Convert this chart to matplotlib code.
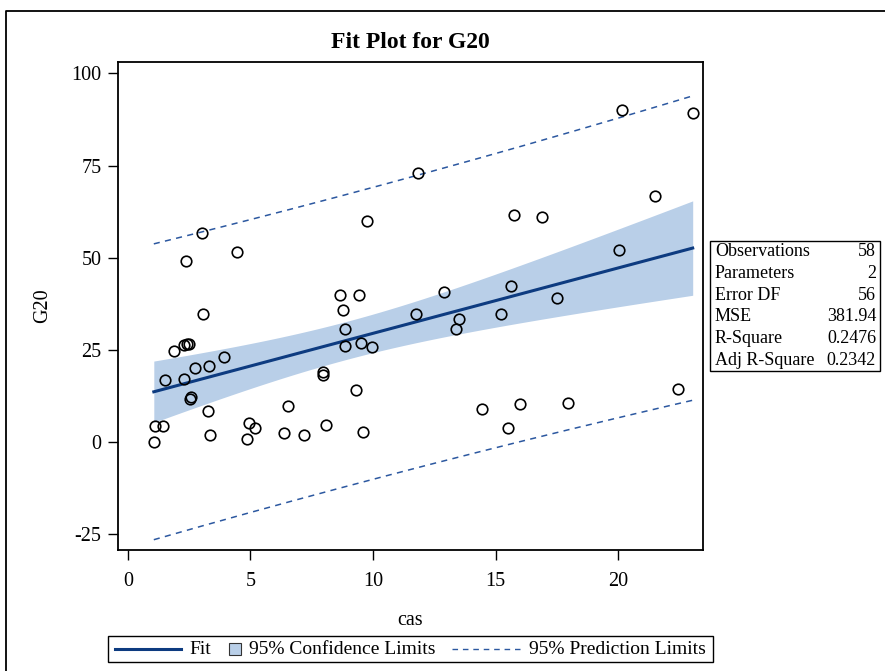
import numpy as np
import matplotlib
matplotlib.use("Agg")
import matplotlib.pyplot as plt
from matplotlib.lines import Line2D
from matplotlib.patches import Rectangle

plt.rcParams['font.family'] = ['Liberation Serif', 'DejaVu Serif']
plt.rcParams['axes.unicode_minus'] = False

# ---- data ----
cas = [1.06, 1.10, 1.43, 1.50, 1.88, 2.31, 2.42, 2.50, 2.39, 2.31,
       2.56, 2.53, 2.72, 3.02, 3.07, 4.44, 3.33, 3.94, 3.26, 3.37,
       4.96, 5.18, 4.85, 6.35, 6.55, 11.83, 9.76, 8.64, 9.43, 8.78,
       8.87, 8.87, 9.49, 9.96, 7.96, 7.96, 9.29, 8.07, 7.20, 9.58,
       11.73, 12.91, 13.51, 13.40, 14.44, 15.76, 16.89, 21.51, 20.03, 15.63,
       15.23, 17.49, 15.97, 15.49, 17.95, 22.42, 20.14, 23.03]
g20 = [0.0, 4.3, 4.3, 16.8, 24.6, 26.2, 26.6, 26.7, 49.1, 17.0,
       12.3, 11.6, 20.2, 56.6, 34.7, 51.6, 20.6, 23.1, 8.3, 1.9,
       5.1, 3.7, 0.7, 2.4, 9.7, 73.1, 59.9, 39.9, 40.0, 35.8,
       30.7, 26.1, 26.8, 25.8, 19.0, 18.2, 14.1, 4.6, 1.8, 2.8,
       34.7, 40.6, 33.3, 30.6, 9.0, 61.6, 61.1, 66.8, 52.1, 42.3,
       34.7, 39.2, 10.2, 3.7, 10.7, 14.4, 90.0, 89.2]

stat_names = ["Observations", "Parameters", "Error DF", "MSE", "R-Square", "Adj R-Square"]
stat_values = ["58", "2", "56", "381.94", "0.2476", "0.2342"]

x_ticks = [0, 5, 10, 15, 20]
y_ticks = [-25, 0, 25, 50, 75, 100]

T_CRIT = 2.00324  # t(0.975, 56)

# ---- fit ----
x = np.array(cas)
y = np.array(g20)
n = len(x)
b1, b0 = np.polyfit(x, y, 1)
resid = y - (b0 + b1 * x)
mse = np.sum(resid ** 2) / (n - 2)
xm = x.mean()
sxx = np.sum((x - xm) ** 2)
xg = np.linspace(x.min(), x.max(), 200)
yg = b0 + b1 * xg
se_mean = np.sqrt(mse * (1 / n + (xg - xm) ** 2 / sxx))
se_pred = np.sqrt(mse * (1 + 1 / n + (xg - xm) ** 2 / sxx))

FIT_C = '#0d3b80'
CL_C = '#b9cfe8'
PL_C = '#2c58a0'

W, H = 885, 671
fig = plt.figure(figsize=(W / 100, H / 100), dpi=100)

def fx(px):
    return px / W

def fy(py):
    return 1 - py / H

ax = fig.add_axes([fx(118), fy(550), fx(703) - fx(118), fy(62) - fy(550)])
ax.fill_between(xg, yg - T_CRIT * se_mean, yg + T_CRIT * se_mean, color=CL_C, lw=0, zorder=1)
ax.plot(xg, yg, color=FIT_C, lw=2.2, zorder=3)
ax.plot(xg, yg + T_CRIT * se_pred, color=PL_C, lw=1.1, ls=(0, (4, 3.5)), zorder=2)
ax.plot(xg, yg - T_CRIT * se_pred, color=PL_C, lw=1.1, ls=(0, (4, 3.5)), zorder=2)
ax.plot(x, y, ls='none', marker='o', ms=7.6, mfc='none', mec='black', mew=1.2, zorder=4)

ax.set_xlim(-0.4, 23.45)
ax.set_ylim(-29.3, 103.1)
ax.set_xticks(x_ticks)
ax.set_yticks(y_ticks)
ax.tick_params(axis='both', labelsize=14.5, length=7, width=1, color='black')
ax.tick_params(axis='x', pad=8.5)
ax.tick_params(axis='y', pad=5)
for s in ax.spines.values():
    s.set_linewidth(1.3)
ax.set_title("Fit Plot for G20", fontsize=17, fontweight='bold', pad=10)
ax.set_xlabel("cas", fontsize=14.5, labelpad=15)
ax.set_ylabel("G20", fontsize=14.5, labelpad=14)

# ---- stats table ----
tb = (710, 241, 880, 371)
fig.add_artist(Rectangle((fx(tb[0]), fy(tb[3])), fx(tb[2]) - fx(tb[0]), fy(tb[1]) - fy(tb[3]),
                         transform=fig.transFigure, fill=False, ec='black', lw=1.0))
row_h = (tb[3] - tb[1]) / len(stat_names)
for i, (nm, v) in enumerate(zip(stat_names, stat_values)):
    cy = tb[1] + row_h * (i + 0.5)
    fig.text(fx(tb[0] + 5), fy(cy), nm, fontsize=13, ha='left', va='center')
    fig.text(fx(tb[2] - 4), fy(cy), v, fontsize=13, ha='right', va='center')

# ---- legend ----
lb = (108, 636, 713, 662)
fig.add_artist(Rectangle((fx(lb[0]), fy(lb[3])), fx(lb[2]) - fx(lb[0]), fy(lb[1]) - fy(lb[3]),
                         transform=fig.transFigure, fill=False, ec='black', lw=1.0))
cyl = (lb[1] + lb[3]) / 2
fig.add_artist(Line2D([fx(115), fx(181)], [fy(cyl), fy(cyl)], transform=fig.transFigure,
                      color=FIT_C, lw=2.2))
fig.text(fx(189), fy(cyl), "Fit", fontsize=14, ha='left', va='center')
fig.add_artist(Rectangle((fx(229), fy(cyl + 6)), fx(12), fy(cyl - 6) - fy(cyl + 6),
                         transform=fig.transFigure, fc=CL_C, ec='#333333', lw=0.8))
fig.text(fx(249), fy(cyl), "95% Confidence Limits", fontsize=14, ha='left', va='center')
fig.add_artist(Line2D([fx(452), fx(520)], [fy(cyl), fy(cyl)], transform=fig.transFigure,
                      color=PL_C, lw=1.0, ls=(0, (4, 3.5))))
fig.text(fx(529), fy(cyl), "95% Prediction Limits", fontsize=14, ha='left', va='center')

# ---- outer frame ----
fig.add_artist(Line2D([fx(6), fx(6), fx(885)], [fy(671), fy(11), fy(11)],
                      transform=fig.transFigure, color='black', lw=1.3))

fig.savefig("out.png", dpi=100)
